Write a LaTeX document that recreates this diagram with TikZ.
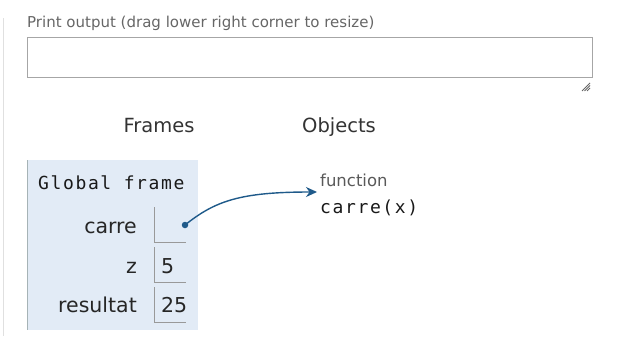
\documentclass[tikz,border=0pt]{standalone}
\usepackage{fontspec}
\setmainfont{DejaVu Sans}
\setsansfont{DejaVu Sans}
\setmonofont{DejaVu Sans Mono}[LetterSpace=9]
\usetikzlibrary{positioning, arrows.meta, calc}
\definecolor{framebg}{HTML}{E2EBF6}
\definecolor{frameedge}{HTML}{A6B3B6}
\definecolor{linkblue}{HTML}{1F5A8A}

\begin{document}
\begin{tikzpicture}[
  x=1bp, y=-1bp,
  caption/.style={font=\fontsize{15bp}{17bp}\selectfont, text=black!60, inner sep=0pt, anchor=base west},
  heading/.style={font=\fontsize{19.5bp}{22bp}\selectfont, text=black!80, inner sep=0pt, anchor=base},
  varname/.style={font=\fontsize{20.5bp}{23bp}\selectfont, text=black!85, inner sep=0pt, anchor=base east},
  value/.style={font=\fontsize{20.5bp}{23bp}\selectfont, text=black!85, inner sep=0pt, anchor=base west},
  code/.style={font=\ttfamily\fontsize{18bp}{20bp}\selectfont, text=black!90, inner sep=0pt, anchor=base west},
  cellbox/.style={inner sep=0pt, minimum width=32bp, minimum height=35bp},
  cell/.style={draw=black!40, line width=1bp},
  pointer/.style={-{Stealth[length=11bp, width=10bp, inset=3.5bp]}, draw=linkblue, line width=1.4bp},
]
\useasboundingbox (0,0) rectangle (617,350);

% side rule and print output box
\draw[black!12, line width=1bp] (3,18) -- (3,336);
\node[caption] (outcap) at (27,27) {Print output (drag lower right corner to resize)};
\node[draw=black!35, line width=1bp, anchor=north west, minimum width=565bp,
      minimum height=40bp, inner sep=0pt] (outbox) at (27,37) {};
\foreach \d in {0,2.5,5}
  \draw[black!60, line width=0.9bp] (590,83+\d) -- (582+\d,91);

% headings
\node[heading] (frames) at (159,132) {Frames};
\node[heading] (objects) at (339,132) {Objects};

% global frame
\node[fill=framebg, anchor=north west, minimum width=171bp, minimum height=170bp,
      inner sep=0pt] (gframe) at (27,160) {};
\draw[frameedge, line width=1bp] (gframe.north west) -- (gframe.south west);
\node[code] (gtitle) at (38,189) {Global frame};

\node[varname] (vcarre) at (137,233) {carre};
\node[varname] (vz) at (137,273) {z};
\node[varname] (vres) at (137,312) {resultat};

\node[cellbox, anchor=north west] (ccarre) at (154,207) {};
\node[cellbox, anchor=north west] (cz) at (154,247) {};
\node[cellbox, anchor=north west] (cres) at (154,287) {};
\foreach \c in {ccarre, cz, cres}
  \draw[cell] (\c.north west) -- (\c.south west) -- (\c.south east);

\node[value] (valz) at (161,273) {5};
\node[value] (valres) at (161,312) {25};

% function object
\node[caption, font=\fontsize{16.5bp}{18bp}\selectfont, text=black!65] (fnlabel) at (320,186) {function};
\node[code] (fnname) at (320,213) {carre(x)};

\node[circle, fill=linkblue, inner sep=0pt, minimum size=6.5bp] (dot) at (185,225) {};
\coordinate (objin) at (317,192);
\draw[pointer] (dot.center) .. controls (215,201) and (240,192) .. (objin);

\end{tikzpicture}
\end{document}
